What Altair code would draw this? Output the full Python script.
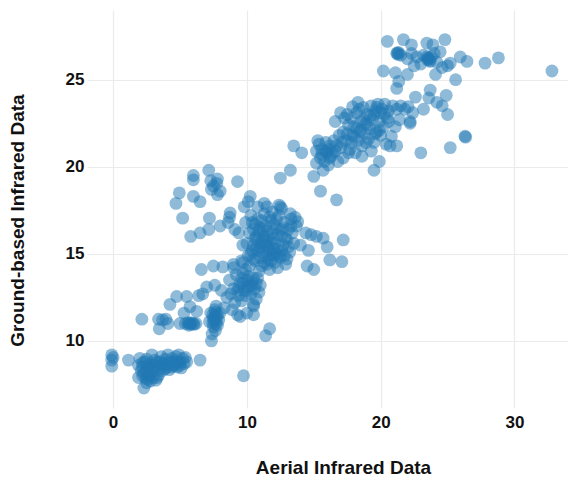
import altair as alt
import pandas as pd

# Aerial (x) and ground-based (y) infrared readings
cluster_a = [(-0.1,9.2),(-0.1,8.9),(-0.1,8.55),(0.0,9.05),(1.15,8.9),
    (1.9,8.6),(2.0,9.0),(2.1,8.3),(2.2,8.75),(2.3,8.1),(2.3,7.3),(2.45,7.85),(2.5,8.95),(2.6,8.5),
    (2.7,8.0),(2.8,8.7),(2.9,9.2),(3.0,8.25),(3.1,8.9),(3.2,7.75),(3.3,8.55),(3.4,8.05),(3.5,8.8),
    (3.6,9.1),(3.7,8.3),(3.8,8.65),(3.9,8.95),(4.0,8.5),(4.1,9.2),(4.2,8.35),(4.3,8.8),(4.4,9.0),
    (4.5,8.6),(4.6,8.85),(4.7,9.1),(4.8,8.5),(4.9,9.2),(5.0,8.8),(5.1,8.45),(5.2,9.0),(5.3,8.7),
    (5.4,9.05),(5.5,8.8),(6.5,8.9),(9.75,8.0),(1.9,7.9),(2.8,7.7),(3.3,7.9),(2.5,7.6),(2.6,8.05),(2.2,8.0),
    (2.2,8.5),(2.5,8.3),(2.7,8.6),(2.9,8.4),(3.1,8.6),(3.3,8.8),(3.5,8.4),(3.7,8.7),(3.9,8.4),
    (4.2,8.7),(4.4,8.5),(4.6,8.6),(4.8,8.8),(5.0,8.6),(2.4,8.8),(3.0,7.9),(2.6,7.8)]

cluster_b = [(2.15,11.25),(3.4,11.25),(3.7,11.2),(3.95,11.25),(3.45,10.7),(4.1,11.0),(5.0,11.0),
    (5.4,11.0),(5.6,11.05),(5.8,10.95),(6.0,11.0),(6.2,11.0),(5.7,11.0),
    (7.3,11.6),(7.5,11.3),(7.6,11.8),(7.7,11.0),(7.8,11.5),(7.5,10.8),(7.4,10.4),(7.35,10.0),
    (7.9,11.2),(7.7,12.0),(8.0,11.6),(7.6,11.4),(7.8,10.9),(7.2,11.1),(7.65,11.65),(7.45,11.05),
    (4.25,12.1),(4.75,12.55),(5.5,12.55),(6.4,12.6),(5.75,11.97),(6.25,11.7),(5.3,11.6),
    (6.7,12.7),(7.0,13.1),(7.6,13.2),(8.1,12.9),(8.5,12.5),(8.3,11.9),
    (6.6,14.1),(7.5,14.3),(8.2,14.25),(9.0,14.2),
    (7.55,11.15),(7.65,10.6),(7.45,11.5),(7.75,11.3),(5.65,10.9),(5.85,11.05),(6.05,10.95)]

cluster_c = [(8.7,13.5),(9.0,13.0),(9.2,13.8),(9.4,12.6),(9.5,13.3),(9.7,13.9),(9.8,12.9),
    (10.0,13.5),(10.1,13.1),(10.3,12.7),(10.4,13.4),(10.6,13.0),(10.8,13.6),(11.0,13.2),
    (9.6,12.3),(9.9,14.1),(10.2,14.3),(9.1,12.2),(8.9,11.8),(9.3,11.5),(10.5,12.0),(10.0,11.6),
    (9.5,11.4),(10.7,12.4),(10.9,12.8),(9.0,14.4),(9.6,14.6),(8.8,12.7),(11.7,10.7),(11.4,10.3),
    (10.5,11.5),(10.5,12.1),
    (9.4,13.1),(9.7,13.3),(9.9,12.6),(10.1,13.7),(10.3,13.2),(10.5,13.6),(9.6,13.6),(10.7,13.3),
    (9.3,12.9),(10.0,12.9)]

cluster_d = [(4.95,18.5),(4.7,17.9),(5.2,17.05),(5.8,16.0),(6.5,16.2),(6.0,19.25),(6.0,19.5),
    (6.0,18.3),(6.5,18.0),(7.15,19.8),(7.3,19.2),(7.8,19.3),(8.0,18.6),(7.8,18.4),(7.35,18.7),
    (7.5,18.9),(7.75,19.05),(7.2,17.05),(7.15,16.4),(8.0,16.6),(8.75,17.35),(8.6,16.8),
    (9.3,19.15),(10.25,18.3),(10.1,18.0),(9.8,17.7)]

cluster_e = [(10.0,15.6),(10.2,16.2),(10.3,15.0),(10.4,16.8),(10.5,15.5),(10.6,14.6),(10.7,16.0),
    (10.8,17.0),(10.9,15.2),(11.0,16.5),(11.1,14.3),(11.2,15.8),(11.3,17.3),(11.4,14.9),(11.5,16.3),
    (11.6,15.4),(11.7,14.1),(11.8,16.9),(11.9,15.0),(12.0,15.9),(12.1,14.5),(12.2,16.5),(12.3,15.3),
    (12.4,17.2),(12.5,14.8),(12.6,16.0),(12.7,15.5),(12.8,16.8),(12.9,14.4),(13.0,15.8),(13.1,16.4),
    (13.2,15.1),(13.3,17.0),(13.4,16.2),(13.5,15.6),(10.5,16.4),(11.0,15.4),(11.3,16.0),(11.6,14.7),
    (11.9,16.2),(12.2,15.0),(12.5,16.4),(11.4,15.5),(11.8,15.6),(12.0,14.9),(10.8,15.8),(11.5,14.4),
    (12.3,14.2),(11.1,16.9),(12.6,17.6),(11.9,17.4),(10.3,17.2),(13.7,16.6),(13.0,14.7),(10.1,14.9),
    (10.8,17.7),(11.3,17.9),(12.4,17.8),(13.25,17.3),(13.8,16.85),(14.4,16.2),(14.8,16.1),(15.2,16.0),
    (16.0,15.4),(15.7,15.9),(17.2,15.8),(16.2,14.65),(17.1,14.55),(14.5,14.3),(15.0,14.1),(14.0,15.5),
    (14.6,15.2),(9.7,15.5),(9.4,16.2),(9.1,16.4),(8.7,17.1),(9.7,14.5),(10.5,14.7),(9.9,16.8),
    (11.5,17.7),(12.5,17.7),
    (10.4,15.2),(10.6,15.9),(10.9,16.3),(11.1,15.6),(11.2,15.1),(11.4,16.6),(11.6,16.0),(11.7,15.2),
    (11.8,14.6),(12.0,16.7),(12.1,15.6),(12.3,16.1),(12.4,14.9),(12.6,15.2),(12.7,16.5),(12.9,15.9),
    (13.1,15.4),(13.3,16.6),(11.0,14.8),(11.3,14.5),(12.2,17.0),(11.7,17.1),(10.7,15.3),(11.5,15.7),
    (12.0,15.3),(10.9,14.0),(12.8,14.9),(13.6,17.1),(10.6,16.7),(11.2,16.4)]

cluster_g = [(15.2,20.9),(15.4,21.3),(15.5,20.5),(15.6,21.0),(15.8,20.3),(15.9,21.4),(16.0,20.8),
    (16.2,21.2),(16.3,20.6),(16.5,21.5),(16.6,20.9),(16.8,20.3),(17.0,21.1),(15.3,21.5),(16.1,20.1),
    (17.2,20.5),(16.9,21.8),(17.2,22.0),(17.4,21.5),(17.6,22.4),(17.7,21.0),(17.8,22.8),(17.9,21.8),
    (18.0,22.3),(18.1,20.8),(18.2,23.1),(18.3,21.5),(18.4,22.0),(18.5,22.6),(18.6,21.2),(18.7,23.4),
    (18.8,21.9),(18.9,22.5),(19.0,23.0),(19.1,21.6),(19.2,22.2),(19.3,23.5),(19.4,22.7),(19.5,21.4),
    (19.6,23.2),(19.7,22.0),(19.8,23.6),(19.9,22.6),(20.0,21.8),(20.1,23.3),(20.2,22.3),(17.5,23.0),
    (17.9,23.45),(18.3,23.7),(17.0,23.1),(16.6,22.6),(17.3,22.8),(18.6,20.6),(19.3,20.9),(20.4,21.3),
    (20.7,21.2),(21.2,21.2),(20.8,21.75),(21.1,22.3),(20.3,23.6),(20.6,23.2),(20.9,23.5),(21.2,23.3),
    (21.5,23.5),(21.8,23.3),(22.05,23.45),(22.4,23.1),(22.2,22.5),(20.5,22.8),(21.4,22.7),
    (19.5,19.8),(19.9,20.3),(15.2,20.2),(15.7,19.8),(13.5,21.2),(14.1,20.8),(12.5,19.35),
    (13.25,19.8),(15.0,19.45),(15.5,18.6),(16.7,18.1),
    (15.6,20.7),(15.9,20.9),(16.1,21.0),(16.4,20.8),(16.7,21.2),(17.1,21.4),(17.5,21.9),(17.8,21.4),
    (18.0,21.7),(18.2,22.2),(18.5,22.1),(18.7,22.7),(19.0,22.4),(19.2,22.9),(19.5,23.0),(19.7,23.4),
    (20.0,23.1),(20.3,23.0),(18.9,21.4),(19.6,21.9),(17.6,20.8),(18.4,23.3),(19.9,22.1),(20.6,22.6),
    (16.2,20.5)]

cluster_h = [(20.5,27.2),(21.7,27.3),(22.3,27.0),(23.45,27.1),(23.9,27.0),(24.8,27.3),
    (21.2,26.5),(21.35,26.55),(21.5,26.4),(22.3,26.5),(22.0,26.2),(22.7,26.3),(23.2,26.4),
    (23.5,26.15),(23.6,26.25),(23.7,26.05),(23.8,26.3),(24.0,26.5),(24.45,26.6),(24.2,26.0),
    (25.2,25.95),(25.95,26.3),(26.45,26.05),(27.8,25.95),(28.8,26.25),(32.8,25.5),(24.6,25.7),
    (20.2,25.5),(21.1,25.4),(22.0,25.3),(22.5,25.8),(24.1,25.3),(25.6,25.0),(25.0,25.8),(23.0,25.9),
    (21.2,24.5),(21.35,24.9),(23.7,24.4),(23.6,23.95),(24.6,23.5),(24.2,23.7),(25.0,23.0),
    (23.2,23.3),(22.2,22.6),(24.9,24.1),(22.6,24.0),(23.0,20.8),(25.2,21.1),(26.3,21.75),(26.35,21.7),
    (21.3,26.45),(21.25,26.55),(23.55,26.2),(23.65,26.1),(23.45,26.3)]

points = cluster_a + cluster_b + cluster_c + cluster_d + cluster_e + cluster_g + cluster_h
aerial = [p[0] for p in points]
ground = [p[1] for p in points]

df = pd.DataFrame({"aerial": aerial, "ground": ground})

FONT = "Liberation Sans"

chart = alt.Chart(df).mark_circle(
    size=165, opacity=0.5, color="#1f77b4"
).encode(
    x=alt.X("aerial:Q", title="Aerial Infrared Data",
            scale=alt.Scale(domain=[-1.95, 34.0], nice=False, zero=False),
            axis=alt.Axis(values=[0, 10, 20, 30], labelPadding=6, titlePadding=28,
                          titleX=256)),
    y=alt.Y("ground:Q", title="Ground-based Infrared Data",
            scale=alt.Scale(domain=[6.15, 29.0], nice=False, zero=False),
            axis=alt.Axis(values=[10, 15, 20, 25], labelPadding=3, titlePadding=38,
                          titleY=210)),
).properties(
    width=481, height=398,
    padding={"left": 0, "top": 2, "right": 0, "bottom": 0},
).configure_view(
    stroke=None
).configure_axis(
    domain=False, ticks=False,
    gridColor="#ebebeb", gridWidth=1.2,
    labelFont=FONT, labelFontSize=17, labelFontWeight="bold", labelColor="#111111",
    titleFont=FONT, titleFontSize=19, titleFontWeight="bold", titleColor="#111111",
)

chart.save("out.html", embed_options={"renderer": "svg", "actions": False})
